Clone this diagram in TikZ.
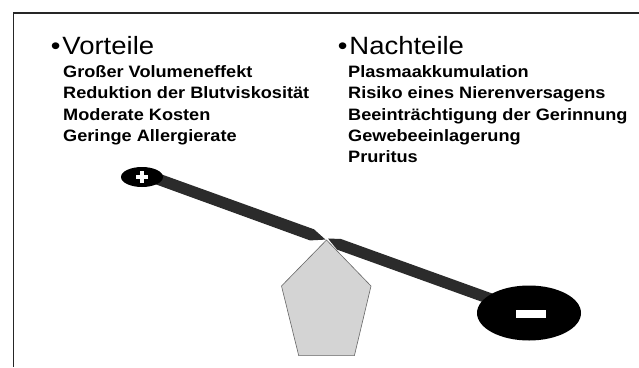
\documentclass[tikz,border=0pt]{standalone}
\usepackage{fontspec}
\newfontfamily\arialfont[FakeStretch=1.1]{Liberation Sans}
\begin{document}
\begin{tikzpicture}[x=1pt,y=-1pt,
  head/.style={anchor=base west,inner sep=0pt,font=\arialfont\fontsize{25}{28}\selectfont},
  item/.style={anchor=base west,inner sep=0pt,font=\arialfont\bfseries\fontsize{16.5}{19}\selectfont},
  frame/.style={line width=1.6pt,draw=black!85},
  beam/.style={fill=black!83},
  pivot/.style={fill=black!17,draw=black!60,line width=0.6pt},
  weight/.style={fill=black},
  sign/.style={fill=white}]
\useasboundingbox (0,0) rectangle (639,367);
\fill[white] (0,0) rectangle (639,367);
% frame
\draw[frame] (13.5,367) -- (13.5,13) -- (639,13);
% headings
\node[head] (vh) at (50.6,54) {•\hspace{2pt}Vorteile};
\node[head] (nh) at (337.6,54) {•\hspace{2pt}Nachteile};
% advantages
\node[item] (v1) at (63,77.5) {Großer Volumeneffekt};
\node[item] (v2) at (63,98.8) {Reduktion der Blutviskosität};
\node[item] (v3) at (63,120.1) {Moderate Kosten};
\node[item] (v4) at (63,141.4) {Geringe Allergierate};
% disadvantages
\node[item] (n1) at (348,77.5) {Plasmaakkumulation};
\node[item] (n2) at (348,98.8) {Risiko eines Nierenversagens};
\node[item] (n3) at (348,120.1) {Beeinträchtigung der Gerinnung};
\node[item] (n4) at (348,141.4) {Gewebeeinlagerung};
\node[item] (n5) at (348,162.7) {Pruritus};
% pivot pentagon
\filldraw[pivot] (326.5,240) -- (371,286) -- (354.4,355.6) -- (298.7,355.6) -- (281.5,286) -- cycle;
% beam, left piece
\fill[beam] (148,169.5) -- (314,229.3) -- (325.5,239.6) -- (310,240.4) -- (148,181.5) -- cycle;
% beam, right piece
\fill[beam] (328,238.5) -- (341,239) -- (500,296.3) -- (500,308.3) -- (337,249.6) -- cycle;
% plus weight
\fill[weight] (142,177) ellipse [x radius=21, y radius=10];
\fill[sign] (136,175) rectangle (148,179);
\fill[sign] (140,171) rectangle (144,183);
% minus weight
\fill[weight] (529,313) ellipse [x radius=52, y radius=27.5];
\fill[sign] (516,310.2) rectangle (546,317.6);
\end{tikzpicture}
\end{document}
